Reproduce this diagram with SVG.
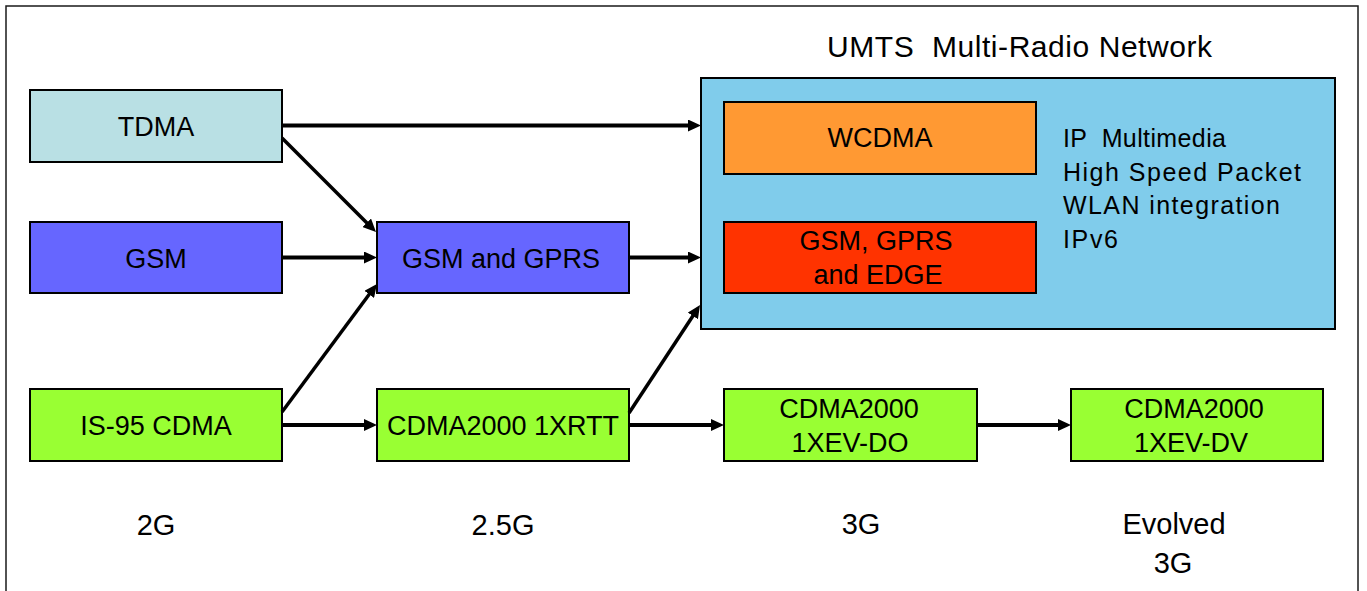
<svg xmlns="http://www.w3.org/2000/svg" width="1367" height="591" viewBox="0 0 1367 591">
<style>
  .box { stroke: #000; stroke-width: 2; }
  .lbl { font-family: "Liberation Sans", Arial, sans-serif; font-size: 27px; fill: #000; text-anchor: middle; }
  .gen { font-family: "Liberation Sans", Arial, sans-serif; font-size: 29px; fill: #000; text-anchor: middle; }
  .list { font-family: "Liberation Sans", Arial, sans-serif; font-size: 25px; fill: #000; }
  .title { font-family: "Liberation Sans", Arial, sans-serif; font-size: 30px; fill: #000; }
  .arr { stroke: #000; stroke-width: 4; fill: none; marker-end: url(#ah); }
  .diag { stroke-width: 3.5; }
  .tdma { fill: #B9E0E4; }
  .blue { fill: #6666FF; }
  .green { fill: #99FF33; }
  .umts { fill: #80CCEB; }
  .orange { fill: #FF9933; }
  .red { fill: #FF3300; }
</style>
<defs>
  <marker id="ah" markerUnits="userSpaceOnUse" viewBox="0 0 13 12" markerWidth="13" markerHeight="12" refX="2" refY="6" orient="auto">
    <path d="M0,0 L13,6 L0,12 z" fill="#000"/>
  </marker>
</defs>
<rect width="1367" height="591" fill="#fff"/>
<rect x="6" y="6" width="1352" height="600" fill="none" stroke="#1a1a1a" stroke-width="1.5"/>

<text class="title" x="827" y="57" textLength="385" lengthAdjust="spacing" xml:space="preserve">UMTS  Multi-Radio Network</text>

<g id="umts">
  <rect class="box umts" x="701" y="78" width="634" height="251"/>
  <text class="list" x="1063" y="147" textLength="163" lengthAdjust="spacing" xml:space="preserve">IP  Multimedia</text>
  <text class="list" x="1063" y="181" textLength="238" lengthAdjust="spacing">High Speed Packet</text>
  <text class="list" x="1063" y="214" textLength="217" lengthAdjust="spacing">WLAN integration</text>
  <text class="list" x="1063" y="248" textLength="55" lengthAdjust="spacing">IPv6</text>
</g>
<g id="wcdma">
  <rect class="box orange" x="724" y="102" width="312" height="72"/>
  <text class="lbl" x="880" y="147">WCDMA</text>
</g>
<g id="edge">
  <rect class="box red" x="724" y="222" width="312" height="71"/>
  <text class="lbl" x="876" y="250">GSM, GPRS</text>
  <text class="lbl" x="878" y="284">and EDGE</text>
</g>

<g id="tdma">
  <rect class="box tdma" x="30" y="90" width="252" height="72"/>
  <text class="lbl" x="156" y="136">TDMA</text>
</g>
<g id="gsm">
  <rect class="box blue" x="30" y="222" width="252" height="71"/>
  <text class="lbl" x="156" y="268">GSM</text>
</g>
<g id="gsm-gprs">
  <rect class="box blue" x="377" y="222" width="252" height="71"/>
  <text class="lbl" x="501" y="268">GSM and GPRS</text>
</g>
<g id="is95">
  <rect class="box green" x="30" y="389" width="252" height="72"/>
  <text class="lbl" x="156" y="435">IS-95 CDMA</text>
</g>
<g id="cdma1xrtt">
  <rect class="box green" x="377" y="389" width="252" height="72"/>
  <text class="lbl" x="503" y="435">CDMA2000 1XRTT</text>
</g>
<g id="evdo">
  <rect class="box green" x="724" y="389" width="253" height="72"/>
  <text class="lbl" x="849" y="418">CDMA2000</text>
  <text class="lbl" x="850" y="452">1XEV-DO</text>
</g>
<g id="evdv">
  <rect class="box green" x="1071" y="389" width="252" height="72"/>
  <text class="lbl" x="1194" y="418">CDMA2000</text>
  <text class="lbl" x="1191" y="452">1XEV-DV</text>
</g>

<g id="connectors">
  <line class="arr" x1="282" y1="125.5" x2="690" y2="125.5"/>
  <line class="arr diag" x1="282" y1="138" x2="368.2" y2="224.2"/>
  <line class="arr" x1="282" y1="257.5" x2="366" y2="257.5"/>
  <line class="arr" x1="629" y1="257.5" x2="690" y2="257.5"/>
  <line class="arr diag" x1="282" y1="412" x2="370.4" y2="292.8"/>
  <line class="arr" x1="282" y1="425" x2="366" y2="425"/>
  <line class="arr diag" x1="629" y1="413" x2="694" y2="314.2"/>
  <line class="arr" x1="629" y1="425" x2="713" y2="425"/>
  <line class="arr" x1="977" y1="425" x2="1060" y2="425"/>
</g>

<g id="generations">
  <text class="gen" x="156" y="535">2G</text>
  <text class="gen" x="503" y="535">2.5G</text>
  <text class="gen" x="861" y="534">3G</text>
  <text class="gen" x="1174" y="534">Evolved</text>
  <text class="gen" x="1173" y="573">3G</text>
</g>
</svg>
